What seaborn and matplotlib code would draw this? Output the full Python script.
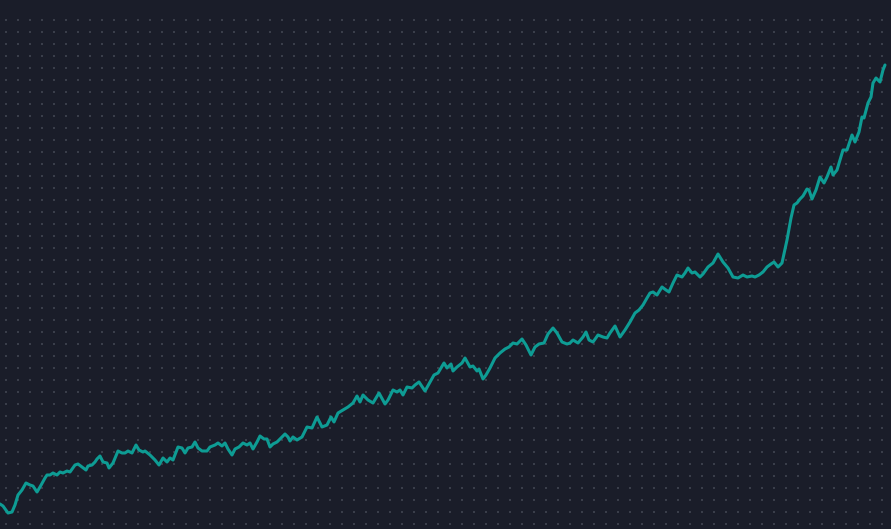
import numpy as np
import pandas as pd
import matplotlib
matplotlib.use('Agg')
import matplotlib.pyplot as plt
import seaborn as sns

# 时间索引与数值
t = [0, 3, 8, 12, 15, 18, 22, 26, 30, 33,
     37, 40, 45, 47, 50, 53, 57, 60, 63, 67,
     70, 75, 78, 82, 86, 88, 92, 95, 97, 100,
     103, 107, 109, 113, 118, 122, 125, 128, 132, 136,
     139, 143, 145, 150, 155, 159, 163, 167, 170, 173,
     178, 182, 185, 188, 192, 195, 198, 202, 207, 210,
     215, 218, 222, 225, 228, 232, 235, 239, 243, 247,
     250, 253, 257, 260, 264, 267, 270, 273, 277, 280,
     285, 288, 290, 293, 297, 302, 307, 312, 317, 322,
     327, 331, 334, 338, 343, 348, 353, 357, 360, 363,
     368, 373, 379, 385, 388, 393, 397, 400, 403, 407,
     412, 415, 419, 425, 430, 434, 438, 444, 447, 451,
     453, 457, 462, 465, 470, 473, 477, 479, 483, 486,
     490, 495, 500, 505, 509, 513, 517, 522, 526, 531,
     535, 539, 544, 548, 553, 557, 562, 567, 570, 573,
     578, 583, 586, 589, 593, 598, 603, 607, 610, 615,
     620, 625, 630, 635, 639, 643, 647, 650, 653, 657,
     662, 666, 669, 673, 677, 682, 685, 688, 692, 695,
     700, 703, 708, 713, 718, 723, 728, 733, 738, 743,
     747, 752, 755, 759, 763, 767, 771, 774, 778, 782,
     787, 791, 794, 797, 800, 803, 807, 809, 812, 816,
     820, 824, 827, 831, 833, 837, 843, 847, 852, 855,
     859, 862, 864, 868, 871, 873, 876, 880, 883, 885]

value = [25, 23, 16, 17, 24, 34, 39, 46, 44, 43,
         37, 42, 51, 54, 54, 56, 54, 57, 56, 58,
         57, 64, 65, 62, 59, 63, 64, 67, 70, 73,
         67, 66, 61, 66, 78, 76, 76, 78, 76, 84,
         79, 77, 78, 74, 69, 64, 71, 67, 71, 69,
         82, 81, 76, 81, 82, 87, 81, 78, 78, 82,
         84, 86, 83, 86, 80, 74, 80, 82, 86, 84,
         86, 80, 87, 93, 90, 90, 82, 85, 87, 90,
         95, 92, 88, 92, 89, 92, 102, 101, 112, 102,
         104, 112, 107, 116, 119, 122, 126, 133, 127, 134,
         129, 126, 136, 125, 129, 139, 137, 139, 134, 142,
         141, 144, 147, 138, 147, 154, 156, 166, 161, 165,
         158, 162, 166, 171, 162, 163, 158, 160, 150, 154,
         161, 171, 176, 180, 182, 186, 185, 190, 184, 174,
         182, 185, 186, 195, 201, 196, 187, 185, 186, 189,
         186, 192, 197, 189, 187, 194, 192, 191, 196, 203,
         192, 199, 207, 216, 219, 224, 231, 236, 237, 234,
         242, 239, 237, 246, 254, 252, 256, 261, 256, 257,
         252, 255, 262, 266, 275, 267, 261, 252, 251, 254,
         252, 253, 252, 254, 257, 262, 265, 267, 262, 266,
         289, 311, 324, 326, 330, 333, 340, 339, 330, 339,
         352, 346, 352, 362, 354, 359, 379, 379, 394, 387,
         397, 412, 411, 426, 432, 446, 451, 447, 459, 464]

BG = '#1a1d29'
DOT = '#3a3e4a'
LINE = '#0e9c94'

sns.set_style('dark', {'axes.facecolor': BG, 'figure.facecolor': BG})

fig = plt.figure(figsize=(8.91, 5.29), dpi=100)
fig.patch.set_facecolor(BG)

# 背景点阵
bg = fig.add_axes([0, 0, 1, 1])
bg.set_facecolor(BG)
bg.set_xlim(0, 891)
bg.set_ylim(529, 0)
gx, gy = np.meshgrid(np.arange(6, 891, 12), np.arange(20, 529, 12))
bg.scatter(gx.ravel(), gy.ravel(), s=2.2, marker='s', color=DOT, linewidths=0)
bg.axis('off')

# 主折线
ax = fig.add_axes([0, 0, 1, 1])
ax.patch.set_alpha(0)
df = pd.DataFrame({'t': t, 'value': value})
sns.lineplot(data=df, x='t', y='value', ax=ax, color=LINE, linewidth=2.2)
ax.set_xlim(0, 891)
ax.set_ylim(0, 529)
ax.axis('off')

plt.savefig('out.png', dpi=100, facecolor=BG)
plt.close()
